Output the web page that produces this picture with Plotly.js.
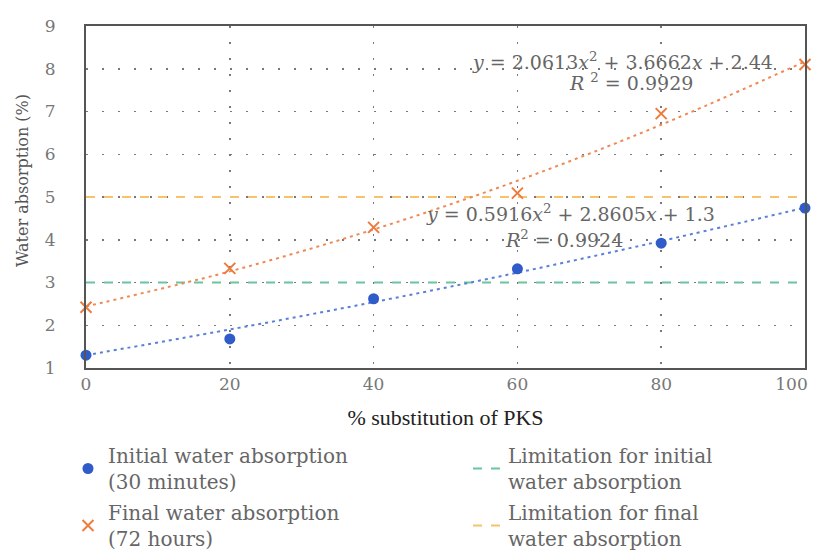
<!DOCTYPE html>
<html>
<head>
<meta charset="utf-8">
<script src="https://cdn.plot.ly/plotly-3.0.1.min.js"></script>
<style>html,body{margin:0;padding:0;background:#fff;}#chart{width:814px;height:552px;}</style>
</head>
<body>
<div id="chart"></div>
<script>
// ---- data ----
const substitution = [0, 20, 40, 60, 80, 100];
const initialAbsorption = [1.30, 1.68, 2.62, 3.32, 3.92, 4.74];
const finalAbsorption = [2.42, 3.33, 4.29, 5.09, 6.95, 8.10];
// trendline values
const initialTrend = [1.30, 1.90, 2.54, 3.23, 3.97, 4.75];
const finalTrend = [2.44, 3.26, 4.24, 5.38, 6.69, 8.17];
const limitX = [0, 100];
const limitInitial = [3, 3];
const limitFinal = [5, 5];
const eqFinal = "<i>y</i> = 2.0613<i>x</i><sup>2</sup> + 3.6662<i>x</i> + 2.44";
const r2Final = "<i>R</i> <sup>2</sup> = 0.9929";
const eqInitial = "<i>y</i> = 0.5916<i>x</i><sup>2</sup> + 2.8605<i>x</i> + 1.3";
const r2Initial = "<i>R</i><sup>2</sup> = 0.9924";
const xTicks = [0, 20, 40, 60, 80, 100];
const xTickText = ["0", "20", "40", "60", "80", "100\u00A0\u00A0\u00A0\u00A0\u00A0"];
const yTicks = [1, 2, 3, 4, 5, 6, 7, 8, 9];
const xTitle = "% substitution of PKS" + "\u00A0".repeat(7);
const yTitle = "Water absorption (%)";

const serif = "DejaVu Serif, serif";
const serifNarrow = "Liberation Serif, Times New Roman, serif";
const blue = "#2f5cc8";
const orange = "#ee7a3c";
const green = "#6cc3a0";
const yellow = "#f5c46a";

const traces = [
  {x: limitX, y: limitInitial, mode: "lines", name: "Limitation for initial<br>water absorption",
   line: {color: green, width: 2, dash: "dash"}, legend: "legend2", legendgroup: "g3", hoverinfo: "skip"},
  {x: limitX, y: limitFinal, mode: "lines", name: "Limitation for final<br>water absorption",
   line: {color: yellow, width: 2, dash: "dash"}, legend: "legend2", legendgroup: "g4", hoverinfo: "skip"},
  {x: substitution, y: initialTrend, mode: "lines", showlegend: false,
   line: {color: "#5b80d8", width: 2, dash: "3px,4px", shape: "spline"}},
  {x: substitution, y: finalTrend, mode: "lines", showlegend: false,
   line: {color: "#f08a55", width: 2, dash: "3px,4px", shape: "spline"}},
  {x: substitution, y: initialAbsorption, mode: "markers", name: "Initial water absorption<br>(30 minutes)",
   marker: {color: blue, size: 11, symbol: "circle"}, cliponaxis: false, legend: "legend", legendgroup: "g1"},
  {x: substitution, y: finalAbsorption, mode: "markers", name: "Final water absorption<br>(72 hours)",
   marker: {color: orange, size: 11, symbol: "x-thin", line: {color: orange, width: 2}}, cliponaxis: false, legend: "legend", legendgroup: "g2"}
];

const legendFont = {family: serif, size: 20, color: "#666"};
const layout = {
  width: 814, height: 552,
  margin: {l: 86, r: 9, t: 26, b: 184, autoexpand: false},
  paper_bgcolor: "#fff", plot_bgcolor: "#fff",
  showlegend: true,
  xaxis: {
    range: [0, 100], tickvals: xTicks, ticktext: xTickText, ticks: "", showline: true, mirror: true,
    linecolor: "#555", linewidth: 2, zeroline: false, ticklabeloverflow: "allow",
    showgrid: true, gridcolor: "#777", griddash: "2px,14px", gridwidth: 1.5,
    tickfont: {family: serif, size: 17, color: "#777"},
    title: {text: xTitle, font: {family: serifNarrow, size: 22, color: "#222"}, standoff: 16}
  },
  yaxis: {
    range: [1, 9], tickvals: yTicks, ticks: "", showline: true, mirror: true,
    linecolor: "#555", linewidth: 2, zeroline: false, ticklabelstandoff: 25,
    showgrid: true, gridcolor: "#777", griddash: "2px,14px", gridwidth: 1.5,
    tickfont: {family: serif, size: 17, color: "#777"}
  },
  legend: {
    x: 68 / 814, y: 1 - 436 / 552, xanchor: "left", yanchor: "top", xref: "container", yref: "container",
    font: legendFont, bgcolor: "rgba(0,0,0,0)", tracegroupgap: 2, itemwidth: 30
  },
  legend2: {
    x: 468 / 814, y: 1 - 436 / 552, xanchor: "left", yanchor: "top", xref: "container", yref: "container",
    font: legendFont, bgcolor: "rgba(0,0,0,0)", tracegroupgap: 2, itemwidth: 30
  },
  annotations: [
    {x: (22 - 86) / 719, y: (368 - 181) / 342, xref: "paper", yref: "paper", xanchor: "center", yanchor: "middle",
     text: yTitle, textangle: -90, showarrow: false, font: {family: serif, size: 16, color: "#555"}},
    {x: (622 - 86) / 719, y: 8.19, xref: "paper", yref: "y", xanchor: "center", text: eqFinal, showarrow: false,
     font: {family: serif, size: 19, color: "#666"}},
    {x: (631 - 86) / 719, y: 7.68, xref: "paper", yref: "y", xanchor: "center", text: r2Final, showarrow: false,
     font: {family: serif, size: 19, color: "#666"}},
    {x: (570 - 86) / 719, y: 4.62, xref: "paper", yref: "y", xanchor: "center", text: eqInitial, showarrow: false,
     font: {family: serif, size: 19, color: "#666"}},
    {x: (564 - 86) / 719, y: 4.01, xref: "paper", yref: "y", xanchor: "center", text: r2Initial, showarrow: false,
     font: {family: serif, size: 19, color: "#666"}}
  ]
};

Plotly.newPlot("chart", traces, layout, {displayModeBar: false, staticPlot: true});
</script>
</body>
</html>
